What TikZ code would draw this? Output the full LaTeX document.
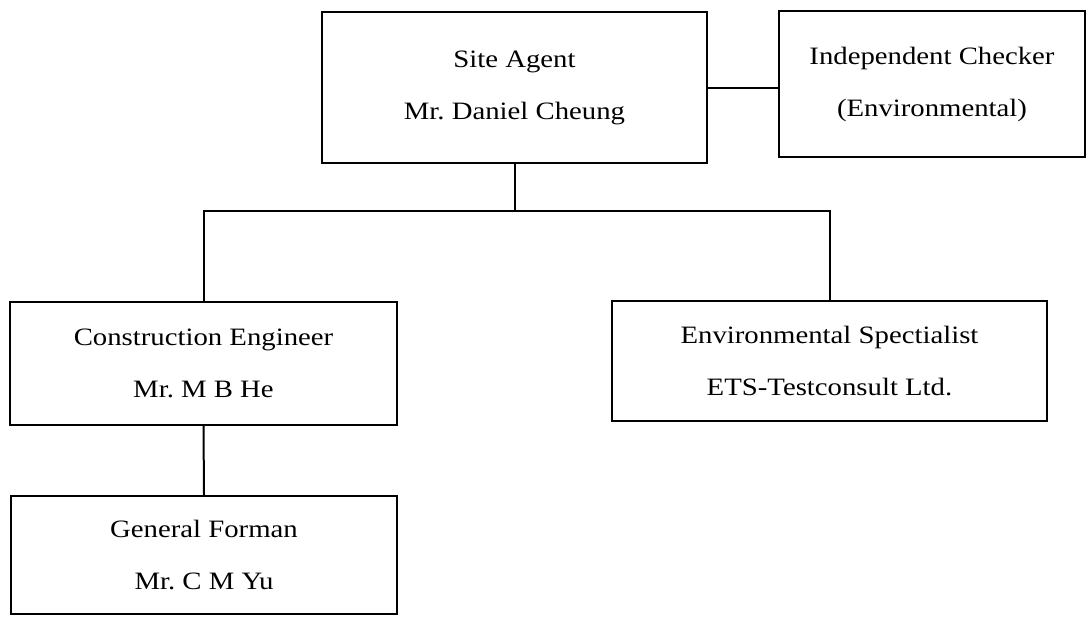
\documentclass[tikz,border=0pt]{standalone}
\usepackage{fontspec}
\setmainfont{Liberation Serif}[FakeStretch=1.15]
\frenchspacing
\begin{document}
\begin{tikzpicture}[x=1pt,y=-1pt,
  box/.style={draw,line width=2.2pt,inner sep=0pt,align=center,
    font=\fontsize{25}{52}\selectfont},
  link/.style={line width=2pt}]
\useasboundingbox (0,0) rectangle (1086,616);
\node[box,minimum width=385pt,minimum height=151pt] (sa) at (514.5,87.5)
  {Site Agent\\Mr. Daniel Cheung};
\node[box,minimum width=306pt,minimum height=146pt] (ic) at (932,84)
  {Independent Checker\\(Environmental)};
\node[box,minimum width=387pt,minimum height=123pt] (ce) at (203.5,363.5)
  {Construction Engineer\\Mr. M B He};
\node[box,minimum width=435pt,minimum height=120pt] (es) at (829.5,361)
  {Environmental Spectialist\\ETS-Testconsult Ltd.};
\node[box,minimum width=386pt,minimum height=118pt] (gf) at (204,555)
  {General Forman\\Mr. C M Yu};
\coordinate (j) at (514.5,211);
\draw[link] (sa.east) -- (sa.east -| ic.west);
\draw[link] (sa.south) -- (j);
\draw[link] (ce.north) -- (ce.north |- j) -- (es.north |- j) -- (es.north);
\draw[link] (ce.south) -- (gf.north);
\end{tikzpicture}
\end{document}
